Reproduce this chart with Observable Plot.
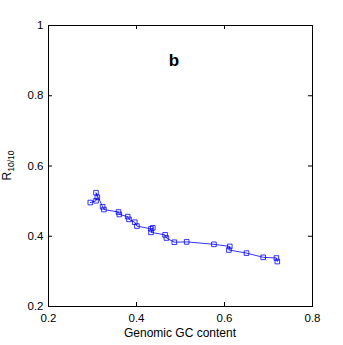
<!DOCTYPE html>
<html>
<head>
<meta charset="utf-8">
<script src="https://cdn.jsdelivr.net/npm/d3@7"></script>
<script src="https://cdn.jsdelivr.net/npm/@observablehq/plot@0.6"></script>
<style>
  html, body { margin: 0; padding: 0; background: #fff; }
  svg { font-family: "Liberation Sans", Arial, Helvetica, sans-serif; }
</style>
</head>
<body>
<div id="chart"></div>
<script>
const gcContent = [0.295, 0.308, 0.311, 0.308, 0.323, 0.326, 0.359, 0.361, 0.380, 0.383, 0.396, 0.401, 0.433, 0.437, 0.433, 0.465, 0.468, 0.486, 0.514, 0.576, 0.612, 0.610, 0.650, 0.688, 0.718, 0.720];
const r1010 = [0.496, 0.501, 0.511, 0.524, 0.484, 0.476, 0.469, 0.462, 0.456, 0.448, 0.440, 0.429, 0.421, 0.424, 0.411, 0.404, 0.395, 0.383, 0.384, 0.377, 0.371, 0.361, 0.352, 0.340, 0.338, 0.328];
const xTicks = [0.2, 0.4, 0.6, 0.8];
const yTicks = [0.2, 0.4, 0.6, 0.8, 1];
const yTickLabels = ["0.2", "0.4", "0.6", "0.8", "1"];
const panelLabel = [{x: 0.485, y: 0.9, text: "b"}];

const data = gcContent.map((x, i) => ({x, y: r1010[i]}));

const W = 343, H = 345;
const mL = 48, mR = 31, mT = 25, mB = 39;
const pw = W - mL - mR, ph = H - mT - mB;
const tick = 4;

const plot = Plot.plot({
  width: W,
  height: H,
  marginLeft: mL,
  marginRight: mR,
  marginTop: mT,
  marginBottom: mB,
  style: {fontSize: "11.5px", fontFamily: "'Liberation Sans', Arial, sans-serif", color: "#000", background: "#fff"},
  x: {domain: [0.2, 0.8]},
  y: {domain: [0.2, 1]},
  marks: [
    Plot.axisX({ticks: xTicks, tickSize: 0, tickPadding: 7, tickFormat: d => String(d), label: null, fill: "#000"}),
    Plot.axisY({ticks: yTicks, tickSize: 0, tickPadding: 5, tickFormat: (d, i) => yTickLabels[yTicks.indexOf(d)], label: null, fill: "#000"}),
    Plot.ruleX(xTicks, {x: d => d, insetTop: ph - tick, stroke: "#000", strokeWidth: 1}),
    Plot.ruleX(xTicks, {x: d => d, insetBottom: ph - tick, stroke: "#000", strokeWidth: 1}),
    Plot.ruleY(yTicks, {y: d => d, insetRight: pw - tick, stroke: "#000", strokeWidth: 1}),
    Plot.ruleY(yTicks, {y: d => d, insetLeft: pw - tick, stroke: "#000", strokeWidth: 1}),
    Plot.frame({stroke: "#000", strokeWidth: 1}),
    Plot.line(data, {x: "x", y: "y", stroke: "#0000ff", strokeWidth: 0.8}),
    Plot.dot(data, {x: "x", y: "y", symbol: "square", r: 2.6, stroke: "#0000ff", strokeWidth: 0.8, fill: "none"}),
    Plot.text(panelLabel, {x: "x", y: "y", text: "text", fontSize: 17, fontWeight: "bold", fill: "#000"})
  ]
});

const svg = d3.select(plot);
// x-axis label
svg.append("text")
  .attr("x", mL + pw / 2)
  .attr("y", 337)
  .attr("text-anchor", "middle")
  .attr("font-size", 12)
  .attr("fill", "#000")
  .text("Genomic GC content");
// y-axis label with subscript
const yl = svg.append("text")
  .attr("transform", `translate(11,${mT + ph / 2}) rotate(-90)`)
  .attr("text-anchor", "middle")
  .attr("font-size", 12)
  .attr("fill", "#000");
yl.append("tspan").text("R");
yl.append("tspan").attr("font-size", 8.5).attr("dy", 3).text("10/10");

document.getElementById("chart").appendChild(plot);
</script>
</body>
</html>
